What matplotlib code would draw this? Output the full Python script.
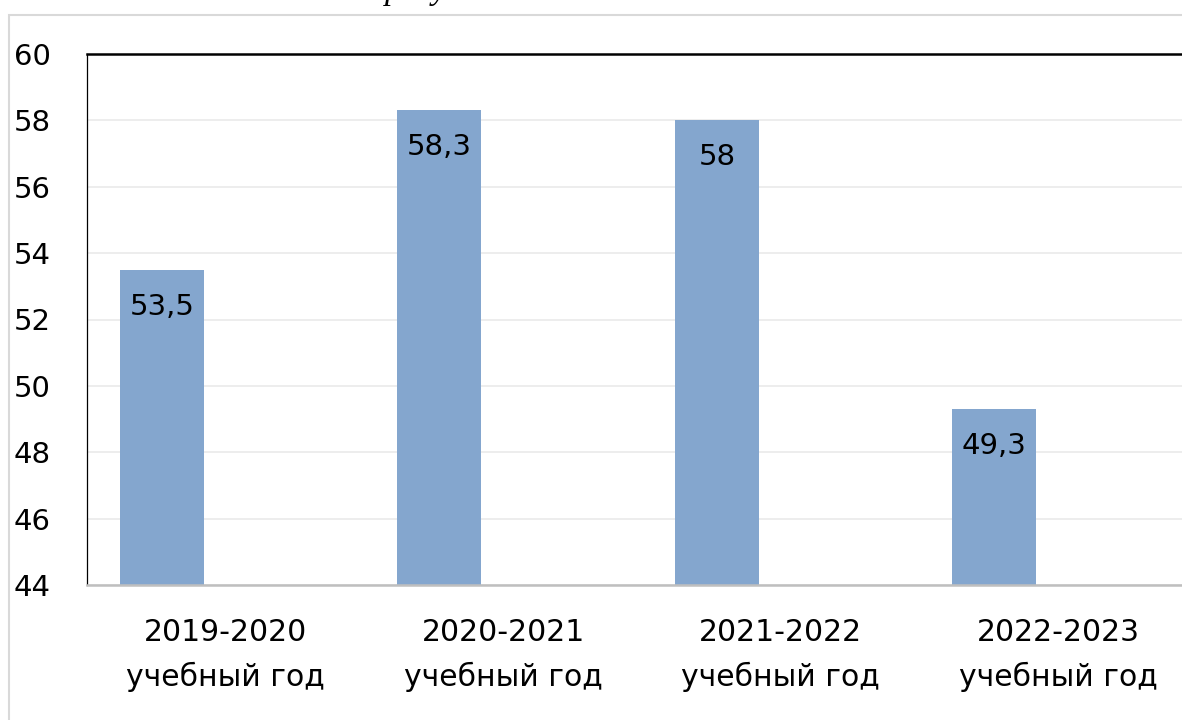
import matplotlib.pyplot as plt
from matplotlib.patches import Rectangle

# data
years = ['2019-2020\nучебный год', '2020-2021\nучебный год',
         '2021-2022\nучебный год', '2022-2023\nучебный год']
values = [53.5, 58.3, 58.0, 49.3]
yticks = [44, 46, 48, 50, 52, 54, 56, 58, 60]

plt.rcParams['font.family'] = ['DejaVu Sans']

fig = plt.figure(figsize=(11.82, 7.2), dpi=100)

# outer grey frame of the chart area (cropped on right / bottom)
fig.patches.append(Rectangle((9 / 1182, -0.05), 1.1, 1 - 15 / 720 + 0.05,
                             transform=fig.transFigure, fill=False,
                             edgecolor='#d9d9d9', linewidth=1.5))

# caption line above, mostly cut off
fig.text(385 / 1182, 1 + 1 / 720, 'рисунок', fontsize=24, style='italic',
         family='Liberation Serif', ha='left', va='baseline', color='black')

ax = fig.add_axes([87 / 1182, 1 - 585 / 720, 1110 / 1182, 531 / 720])

x = range(len(values))
pos = [i - 0.23 for i in x]
bars = ax.bar(pos, values, width=0.303, bottom=0, color='#84a6ce', zorder=2)

ax.set_ylim(44, 60)
ax.set_xlim(-0.5, 3.5)
ax.set_yticks(yticks)
ax.set_xticks(list(x))
ax.set_xticklabels(years, fontsize=21.5, linespacing=1.6)
ax.tick_params(axis='y', length=0, pad=26, labelsize=21)
ax.tick_params(axis='x', length=0, pad=24)

ax.yaxis.grid(True, color='#ececec', linewidth=1.3, zorder=0)
ax.set_axisbelow(True)

ax.spines['top'].set_color('black')
ax.spines['top'].set_linewidth(1.8)
ax.spines['left'].set_color('black')
ax.spines['left'].set_linewidth(0.9)
ax.spines['right'].set_visible(False)
ax.spines['bottom'].set_color('#bfbfbf')
ax.spines['bottom'].set_linewidth(1.8)

for p, v in zip(pos, values):
    txt = ('%g' % v).replace('.', ',')
    ax.annotate(txt, (p, v), xytext=(0, -26.5), textcoords='offset points',
                ha='center', va='center', fontsize=21, color='black')

fig.savefig('out.png', dpi=100)
